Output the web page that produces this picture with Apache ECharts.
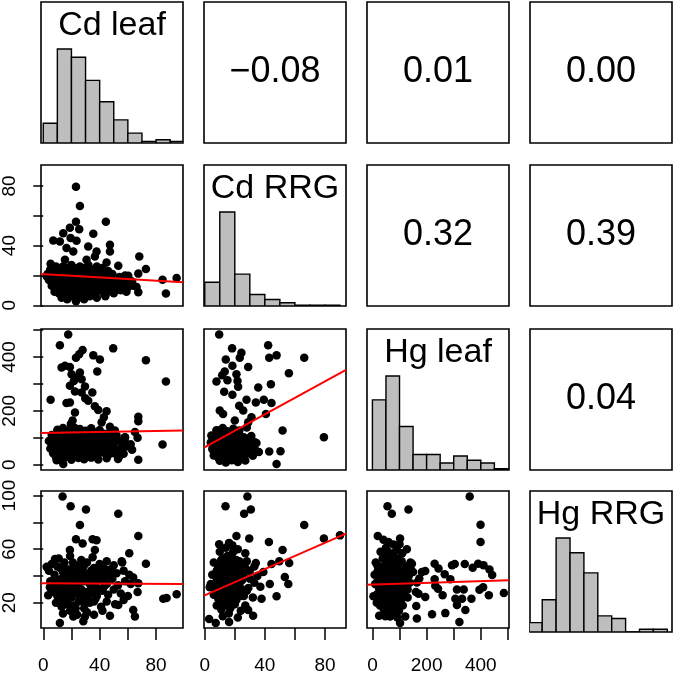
<!DOCTYPE html>
<html><head><meta charset="utf-8">
<script src="https://cdn.jsdelivr.net/npm/echarts@6/dist/echarts.min.js"></script>
<style>html,body{margin:0;padding:0;background:#fff}#c{width:675px;height:675px}</style>
</head><body><div id="c"></div>
<script>
// ---- data ----
const varNames = ['Cd leaf', 'Cd RRG', 'Hg leaf', 'Hg RRG'];
const corrLabels = {'0-1': '\u22120.08', '0-2': '0.01', '0-3': '0.00', '1-2': '0.32', '1-3': '0.39', '2-3': '0.04'};

const cdLeafBreaks = [0,10,20,30,40,50,60,70,80,90,100];
const cdLeafCounts = [12,57,52,38,25,14,6,1,2,1];
const cdRRGBreaks = [0,10,20,30,40,50,60,70,80,90];
const cdRRGCounts = [29,115,39,14,8,4,1,1,1];
const hgLeafBreaks = [0,50,100,150,200,250,300,350,400,450,500];
const hgLeafCounts = [50,67,31,11,11,5,10,7,5,1];
const hgRRGBreaks = [0,10,20,30,40,50,60,70,80,90,100];
const hgRRGCounts = [7,24,70,59,44,12,10,0,2,2];

const cdTicks = [0,20,40,60,80];
const cdTickLabels = [0,40,80];
const hgLeafTicks = [0,100,200,300,400,500];
const hgLeafTickLabels = [0,200,400];
const hgRRGTicks = [20,40,60,80,100];
const hgRRGTickLabels = [20,60,100];

// scatter: Cd RRG (y) vs Cd leaf (x)
const ptsCdRRG_CdLeaf = [
[23.2,79.5],[26,66.6],[23.2,56],[44.4,56],[18.9,52],[25.5,51],[14.2,48.3],[35.5,47.9],[19.4,45],[7.1,43.4],[11.8,42.8],[23.6,43.2],[31.9,39.4],[16.5,38.3],[47.3,40.5],[47.3,36],[37.8,36],[21.3,36],[36.6,32.7],[68.1,32.7],[5.2,27.8],[44.9,28.7],[53.2,26.5],[72.8,24.3],[67.4,21.2],[30.7,30.5],[15.4,30.5],[84.6,17.1],[94.6,18.3],[87,7.8],[66.2,12.2],[67.4,8.7],[60.3,19.8],[23.2,2.7],[2.4,19.4],
[5,24],[9,26],[12,23],[14,26],[17,25],[20,27],[23,24],[26,26],[29,25],[32,27],[35,24],[38,26],[42,25],[46,23],
[3,21],[6,20],[9,22],[12,19],[15,21],[18,20],[21,22],[24,19],[27,21],[30,20],[33,22],[36,19],[40,21],[44,20],[49,21],[54,19],[58,20],
[4,17],[7,16],[10,18],[13,15],[16,17],[19,16],[22,18],[25,15],[28,17],[31,16],[34,18],[37,15],[41,17],[45,16],[48,18],[52,16],[55,17],[58,15],[61,17],[63,16],
[6,13],[9,12],[12,14],[15,11],[18,13],[21,12],[24,14],[27,11],[30,13],[33,12],[36,14],[40,11],[43,13],[47,12],[50,14],[53,11],[57,13],[60,12],[64,13],
[8,9],[11,8],[14,10],[17,7],[20,9],[23,8],[26,10],[29,7],[32,9],[35,8],[39,10],[43,8],[46,9],[50,8],[55,10],[59,9],
[13,5],[17,4],[21,6],[25,5],[29,4],[33,6],[38,5],[44,6],
[10,21],[13,18],[16,23],[19,14],[22,16],[25,22],[28,13],[31,18],[34,15],[37,21],[40,14],[43,18],[11,11],[14,16],[17,20],[20,11],[23,17],[26,13],[29,22],[32,15],[35,11],[38,17],[41,12],[44,15],[15,8],[19,6],[24,9],[28,6],[31,11],[36,9],[42,10],[9,15],[7,19],[27,24],[22,25],[18,23],[33,24],[47,19],[51,13],[56,16]
];
// Hg leaf (y) vs Cd leaf (x)
const ptsHgLeaf_CdLeaf = [
[17.7,484],[11.8,444],[49.6,432],[27.9,426],[35.5,406],[40.2,391],[25.5,410],[23.2,397],[72.8,388],[15.4,367],[13,361],[18.9,363],[38.3,346],[20.1,336],[26,342],[24.1,324],[21.7,311],[27.2,317],[87,309],[29.6,290],[18.9,293],[22.5,272],[34.8,268],[27.2,268],[29.8,247],[5.2,241],[31.9,237],[18.9,231],[16.5,229],[36.6,217],[39,203],[44.9,198],[22.5,194],[67.4,178],[43,176],[67.4,161],[41.4,157],[20.8,164],[19.6,151],[47.3,141],[50.8,127],[65,121],[57.9,102],[66.9,100],[84.6,75],[67.4,18],[14.2,2],[9.5,16],
[10,130],[14,136],[18,128],[22,138],[26,132],[30,126],[34,135],[40,129],
[6,110],[10,104],[13,117],[17,108],[20,100],[24,114],[28,106],[31,118],[35,102],[38,112],[42,105],[46,116],[52,108],[58,101],
[4,88],[8,80],[11,93],[15,85],[18,76],[21,90],[25,82],[28,94],[32,78],[35,88],[39,80],[43,92],[47,84],[50,77],[54,89],[58,82],[62,76],
[5,60],[9,68],[12,55],[16,64],[19,52],[23,69],[26,58],[30,66],[33,53],[37,62],[41,70],[44,56],[48,64],[51,52],[55,61],[59,67],[63,55],
[7,42],[10,34],[14,46],[17,38],[21,30],[24,44],[28,36],[31,47],[35,32],[38,40],[42,45],[46,35],[50,42],[54,31],[57,40],
[12,22],[16,28],[20,18],[25,25],[29,20],[34,26],[39,19],[45,24],[53,21],
[8,95],[12,72],[15,100],[18,62],[20,85],[23,48],[26,95],[29,56],[32,88],[34,70],[36,44],[39,96],[42,60],[44,78],[13,40],[17,50],[21,78],[25,68],[28,84],[31,38],[33,105],[37,74],[40,55],[11,85],[7,52],[15,120],[19,112],[24,92],[27,45],[30,100],[36,120],[43,115],[48,100],[9,28],[22,60],[26,35],[45,66],[49,88]
];
// Hg RRG (y) vs Cd leaf (x)
const ptsHgRRG_CdLeaf = [
[13.7,99.3],[19.4,92],[30.3,89.6],[53.2,86.5],[26,78],[67.4,69.8],[35,67.4],[37.8,66.6],[23.2,67.4],[27.9,64.2],[18.9,59.4],[36.6,59.4],[61,57],[72.8,49.2],[55.6,51],[2.4,46.8],[8.3,52.6],[85.1,23.1],[87.5,23.6],[94.6,26.3],[66.9,28],[67.4,34.5],[65,9.8],[47.3,10.3],[63.8,14.7],[53.2,18.3],[11.8,5],[21.3,9.8],[28.4,6.2],[29.6,9.8],[3.5,25.6],[4.7,31.6],[63.8,38.9],
[6,49],[11,53],[15,50],[19,55],[23,48],[27,52],[31,50],[35,54],[40,49],[45,51],[50,48],[56,50],
[4,44],[8,41],[12,46],[16,42],[20,45],[24,40],[28,44],[32,41],[36,46],[40,43],[44,40],[48,45],[52,42],[57,44],[61,41],
[5,36],[9,33],[13,38],[17,34],[21,37],[25,32],[29,36],[33,39],[37,33],[41,37],[45,34],[49,38],[53,33],[58,36],[62,34],
[6,28],[10,25],[14,30],[18,26],[22,29],[26,24],[30,28],[34,31],[38,25],[42,29],[46,26],[50,30],[55,27],[60,25],
[9,20],[13,17],[17,22],[21,18],[25,21],[29,16],[33,20],[37,23],[41,17],[45,21],[51,19],[57,22],
[14,12],[19,14],[24,11],[31,13],[36,11],[42,14],
[10,47],[14,43],[18,38],[22,42],[26,46],[30,40],[34,44],[38,37],[42,41],[11,30],[15,26],[19,31],[23,35],[27,30],[31,24],[35,28],[39,30],[43,32],[12,22],[16,19],[20,24],[24,27],[28,21],[32,26],[36,21],[13,35],[17,45],[21,50],[25,44],[29,48],[33,34],[37,42],[41,46],[47,40],[8,37],[19,42],[23,16],[27,38],[35,36],[44,45]
];
// Hg leaf (y) vs Cd RRG (x)
const ptsHgLeaf_CdRRG = [
[9.6,484],[18.2,432],[42.2,444],[24.4,416],[23.3,397],[47.8,406],[42.9,397],[66.2,397],[14,391],[18.4,367],[28.9,363],[13.3,346],[11.6,332],[21.1,336],[56,340],[7.8,309],[15.1,314],[21.8,311],[44,299],[22.2,289],[35.6,287],[12.9,271],[18.4,260],[27.8,241],[39.3,241],[34,231],[44.4,229],[22.9,219],[10,201],[12.2,188],[25.6,201],[40.7,188],[31.1,176],[28.9,157],[20,164],[51.8,127],[79.3,102],[4.4,108],[7.8,127],[34.4,80],[36,47],[42.9,49],[50.4,50],[47.8,2],[32.2,65],[28.9,96],
[8,128],[12,136],[15,124],[19,133],[23,127],[28,138],
[5,104],[8,113],[11,98],[14,109],[17,117],[20,101],[23,112],[27,96],[31,106],
[4,82],[7,90],[10,75],[13,86],[16,72],[19,92],[22,79],[25,88],[29,74],[33,84],
[5,58],[8,66],[11,50],[14,62],[17,47],[20,64],[23,54],[26,45],[30,60],[34,52],
[6,34],[9,26],[12,40],[15,30],[18,22],[21,37],[24,28],[28,41],[32,33],
[10,14],[14,8],[18,16],[22,10],[27,15],
[6,48],[9,84],[12,64],[15,96],[17,35],[19,55],[21,118],[13,20],[7,72],[16,88],[11,120],[24,70],[20,40],[26,102],
[7,40],[9,56],[10,95],[11,30],[12,78],[13,52],[14,100],[15,44],[16,62],[17,80],[18,33],[19,70],[20,90],[21,48],[22,60],[23,100],[24,38],[25,78],[8,105],[13,70],[17,25],[19,108],[10,62],[14,50],[16,112],[21,82],[12,90],[7,60],[23,44],[26,60],[18,98],[9,74],[11,110],[15,76],[20,28],[24,90]
];
// Hg RRG (y) vs Cd RRG (x)
const ptsHgRRG_CdRRG = [
[28.4,99.3],[13.8,92],[30.7,89.6],[26.2,86.5],[66.2,78],[79.3,67.9],[90,70.3],[21.1,69.8],[29.6,67.9],[42.7,65.4],[9.6,63.7],[16.2,64.7],[18.4,63],[51.8,59.4],[56.2,49.7],[49.6,51],[44.4,49],[34,49.7],[53.3,39.3],[55.6,34],[43.3,34],[47.8,24.8],[37.8,23.1],[32.2,10.3],[28.9,14.7],[2.9,7.9],[7.3,5],[16.2,5.7],[3.3,31.6],
[10,58],[14,61],[18,56],[22,60],[27,57],
[6,50],[9,47],[12,53],[15,49],[18,46],[21,52],[24,48],[28,51],[33,47],
[5,41],[8,44],[11,39],[14,43],[17,40],[20,45],[23,38],[26,42],[30,44],[35,40],[39,43],
[4,34],[7,31],[10,36],[13,32],[16,35],[19,30],[22,34],[25,37],[29,31],[33,35],[37,32],
[6,26],[9,23],[12,28],[15,24],[18,27],[21,22],[24,25],[28,29],[32,24],
[8,18],[11,15],[14,20],[17,16],[20,19],[24,14],[27,18],
[12,10],[16,12],[22,9],
[16,42],[12,47],[19,38],[10,29],[14,36],[21,26],[17,51],[9,40],[23,32],[13,24],
[9,35],[10,44],[11,26],[12,38],[13,50],[14,28],[15,45],[16,22],[17,33],[18,48],[19,25],[20,41],[21,35],[22,48],[23,27],[24,43],[25,30],[11,33],[13,42],[15,30],[17,47],[19,34],[21,40],[14,18],[18,20],[10,20],[8,38],[12,32],[16,38],[20,30],[22,44],[24,36],[26,25],[15,55],[19,58],[11,52],[27,46],[30,38],[8,28],[23,51]
];
// Hg RRG (y) vs Hg leaf (x)
const ptsHgRRG_HgLeaf = [
[359,99.3],[55.6,92],[71.6,86.5],[133,89.6],[399,78.2],[399,65.4],[19.8,69.8],[40.7,67.1],[59.3,65.4],[77.8,63.5],[102,67.9],[100,63.7],[127,59.9],[145.7,49.2],[229.6,49.2],[195,43.7],[182.7,43],[244,45.6],[266.7,41.3],[293.8,48],[303.7,49],[340.7,49],[370,46.1],[390,49.2],[410,48],[432,44.9],[442,40.8],[229.6,37.6],[232,32.8],[242,30.4],[259,25.6],[287.7,37.6],[312,29.9],[337,29.9],[306,23.1],[330.9,23.1],[312,18.3],[343,14.7],[365.4,23.1],[395,29.7],[408.6,31.6],[429.6,25.6],[485,27.3],[160.5,28],[170,26.8],[195,24.4],[161.7,17.6],[164,8.2],[220,11.5],[269,12.3],[321,5.7],[24.7,10.3],[3.7,24.8],[65.4,9.8],[102,5],[121,9.8],[173,38.1],[164,35.2],
[30,58],[50,61],[70,56],[90,60],[110,57],
[12,50],[25,47],[38,53],[52,49],[66,46],[80,52],[94,48],[108,51],[125,47],[140,50],
[8,41],[20,44],[34,39],[48,43],[62,40],[76,45],[90,38],[104,42],[118,44],[134,40],[150,43],
[10,34],[24,31],[38,36],[52,32],[66,35],[80,30],[94,34],[108,37],[122,31],[138,35],
[15,26],[30,23],[44,28],[58,24],[72,27],[86,22],[100,25],[115,29],[130,24],
[28,18],[42,15],[56,20],[70,16],[84,19],[98,14],[112,18],
[48,10],[80,12],[92,9],
[45,37],[60,45],[75,33],[88,42],[35,25],[55,52],[100,29],[20,38],[68,20],[115,40],
[18,48],[28,42],[40,47],[55,38],[63,50],[72,41],[82,35],[96,45],[112,33],[22,33],[32,45],[44,31],[56,44],[68,30],[78,39],[92,28],[104,36],[118,26],[26,28],[36,33],[48,22],[60,28],[74,23],[86,32],[96,20],[108,23],[124,38],[42,55],[58,58],[78,57],[96,53],[16,20],[34,18],[64,14],[82,26],[130,30],[142,45],[50,40],[70,48],[88,50]
];
// linear fits [intercept, slope] per lower panel
const fitCdRRG_CdLeaf = [20.8, -0.055];
const fitHgLeaf_CdLeaf = [117.2, 0.097];
const fitHgRRG_CdLeaf = [34.5, -0.005];
const fitHgLeaf_CdRRG = [65, 3.05];
const fitHgRRG_CdRRG = [25.6, 0.49];
const fitHgRRG_HgLeaf = [33.6, 0.0065];

// ---- layout ----
const PL = [41, 204, 367, 530];
const PT = [2, 165, 329, 491];
const PW = 142, PH = 141;
const FONT = 'Liberation Sans, Arial, Helvetica, sans-serif';
const ranges = [[-1.6, 99.1], [-0.5, 94], [-20, 504], [1.2, 103.4]];
const ticks = [cdTicks, cdTicks, hgLeafTicks, hgRRGTicks];
const tickLabels = [cdTickLabels, cdTickLabels, hgLeafTickLabels, hgRRGTickLabels];
const hists = [[cdLeafBreaks, cdLeafCounts], [cdRRGBreaks, cdRRGCounts], [hgLeafBreaks, hgLeafCounts], [hgRRGBreaks, hgRRGCounts]];
const scatters = {
  '1-0': [ptsCdRRG_CdLeaf, fitCdRRG_CdLeaf],
  '2-0': [ptsHgLeaf_CdLeaf, fitHgLeaf_CdLeaf],
  '3-0': [ptsHgRRG_CdLeaf, fitHgRRG_CdLeaf],
  '2-1': [ptsHgLeaf_CdRRG, fitHgLeaf_CdRRG],
  '3-1': [ptsHgRRG_CdRRG, fitHgRRG_CdRRG],
  '3-2': [ptsHgRRG_HgLeaf, fitHgRRG_HgLeaf]
};

const grid = [], xAxis = [], yAxis = [], series = [], graphic = [];
function mkAxis(idx, range, show, tk, tl, isY) {
  return {
    type: 'value', gridIndex: idx, min: range[0], max: range[1],
    axisLine: {show: false}, splitLine: {show: false},
    axisTick: {show: show, inside: false, length: isY ? 10 : 12, customValues: tk,
      lineStyle: {color: '#000', width: 1.5}},
    axisLabel: {show: show, customValues: tl, color: '#000', fontSize: 19, fontFamily: FONT,
      margin: isY ? 22 : 28, rotate: isY ? 90 : 0, formatter: v => String(v)}
  };
}
let gi = 0;
for (let r = 0; r < 4; r++) {
  for (let c = 0; c < 4; c++) {
    grid.push({left: PL[c], top: PT[r], width: PW, height: PH, show: true,
      borderColor: '#000', borderWidth: 1.6, backgroundColor: 'transparent'});
    if (r === c) {
      xAxis.push(mkAxis(gi, ranges[c], false, [], [], false));
      yAxis.push(mkAxis(gi, [0, 1.5], false, [], [], true));
      const br = hists[c][0], ct = hists[c][1];
      const mx = Math.max(...ct);
      const data = ct.map((v, i) => [br[i], br[i + 1], v / mx]);
      series.push({
        type: 'custom', xAxisIndex: gi, yAxisIndex: gi, clip: true, silent: true,
        encode: {x: [0, 1], y: 2},
        renderItem: (params, api) => {
          const p0 = api.coord([api.value(0), api.value(2)]);
          const p1 = api.coord([api.value(1), 0]);
          return {type: 'rect', shape: {x: p0[0], y: p0[1], width: p1[0] - p0[0], height: p1[1] - p0[1]},
            style: {fill: '#bebebe', stroke: '#000', lineWidth: 1.4}};
        },
        data: data, z: 2
      });
      graphic.push({type: 'text', x: PL[c] + PW / 2, y: PT[r] + 24, z: 10,
        style: {text: varNames[c], fontSize: 34, fontFamily: FONT, fill: '#000', align: 'center', verticalAlign: 'middle'}});
    } else if (r > c) {
      xAxis.push(mkAxis(gi, ranges[c], r === 3, ticks[c], tickLabels[c], false));
      yAxis.push(mkAxis(gi, ranges[r], c === 0, ticks[r], tickLabels[r], true));
      const s = scatters[r + '-' + c];
      series.push({type: 'scatter', xAxisIndex: gi, yAxisIndex: gi, data: s[0], symbol: 'circle',
        symbolSize: 8.5, itemStyle: {color: '#000', opacity: 1}, silent: true, z: 2});
      const a = s[1][0], b = s[1][1], x0 = ranges[c][0], x1 = ranges[c][1];
      series.push({type: 'line', xAxisIndex: gi, yAxisIndex: gi, data: [[x0, a + b * x0], [x1, a + b * x1]],
        symbol: 'none', lineStyle: {color: '#ff0000', width: 2}, silent: true, z: 3});
    } else {
      xAxis.push(mkAxis(gi, [0, 1], false, [], [], false));
      yAxis.push(mkAxis(gi, [0, 1], false, [], [], true));
      series.push({type: 'scatter', xAxisIndex: gi, yAxisIndex: gi, data: [], silent: true});
      graphic.push({type: 'text', x: PL[c] + PW / 2, y: PT[r] + PH / 2, z: 10,
        style: {text: corrLabels[r + '-' + c], fontSize: 36, fontFamily: FONT, fill: '#000', align: 'center', verticalAlign: 'middle'}});
    }
    gi++;
  }
}
const chart = echarts.init(document.getElementById('c'), null, {renderer: 'canvas', width: 675, height: 675});
chart.setOption({animation: false, backgroundColor: '#fff', grid, xAxis, yAxis, series, graphic});
</script>
</body></html>
